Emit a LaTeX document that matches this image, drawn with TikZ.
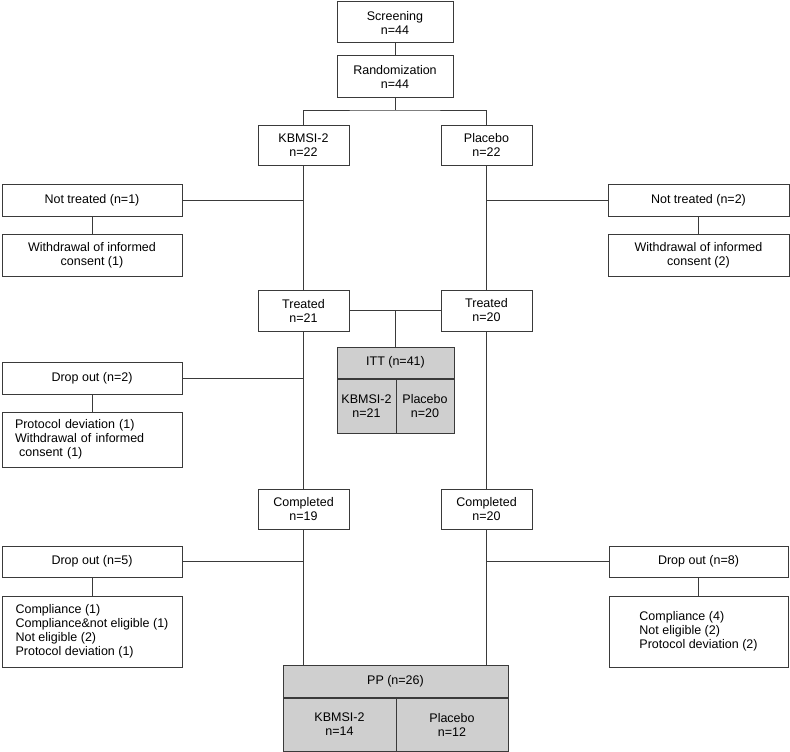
\documentclass[tikz,border=0pt]{standalone}
\usepackage{fontspec}
\setmainfont{Liberation Sans}
\definecolor{lineC}{HTML}{3A3A3A}
\definecolor{fillC}{HTML}{CFCFCF}
\begin{document}
\begin{tikzpicture}[x=1pt,y=-1pt,
  every node/.style={font=\fontsize{12.5}{14}\selectfont},
  box/.style={draw=lineC, line width=1pt, fill=white, inner sep=0pt, align=center},
  gbox/.style={box, fill=fillC},
  conn/.style={draw=lineC, line width=1pt}]
\useasboundingbox (0,0) rectangle (790,752);
% main column
\node[box, minimum width=116, minimum height=41] (scr) at (395,22.5) {Screening\\n=44};
\node[box, minimum width=116, minimum height=41] (rnd) at (395,76.5) {Randomization\\n=44};
\node[box, minimum width=91, minimum height=40] (kb) at (303.5,145) {KBMSI-2\\n=22};
\node[box, minimum width=91, minimum height=40] (pl) at (486.5,145) {Placebo\\n=22};
% not treated
\node[box, minimum width=180, minimum height=32] (nt1) at (92,200) {Not treated (n=1)};
\node[box, minimum width=180, minimum height=42] (wd1) at (92,255) {Withdrawal of informed\\consent (1)};
\node[box, minimum width=181, minimum height=32] (nt2) at (698.5,200) {Not treated (n=2)};
\node[box, minimum width=181, minimum height=42] (wd2) at (698.5,255) {Withdrawal of informed\\consent (2)};
% treated
\node[box, minimum width=91, minimum height=41] (t21) at (303.5,310.5) {Treated\\n=21};
\node[box, minimum width=91, minimum height=41] (t20) at (486.5,310.5) {Treated\\n=20};
% ITT
\node[gbox, minimum width=117, minimum height=31] (itt) at (395.5,362.5) {ITT (n=41)};
\node[gbox, minimum width=59, minimum height=54, anchor=north west] (ittk) at (itt.south west) {KBMSI-2\\n=21};
\node[gbox, minimum width=58, minimum height=54, anchor=north east] (ittp) at (itt.south east) {Placebo\\n=20};
% drop out 2
\node[box, minimum width=180, minimum height=32] (do2) at (92,378) {Drop out (n=2)};
\node[box, minimum width=180, minimum height=55, text width=154, inner xsep=13pt, align=left] (pd) at (92,439.5) {Protocol deviation (1)\\Withdrawal of informed\\\ consent (1)};
% completed
\node[box, minimum width=91, minimum height=40] (c19) at (303.5,509) {Completed\\n=19};
\node[box, minimum width=91, minimum height=40] (c20) at (486.5,509) {Completed\\n=20};
% drop out 5 / 8
\node[box, minimum width=180, minimum height=31] (do5) at (92,561.5) {Drop out (n=5)};
\node[box, minimum width=180, minimum height=71, align=left] (cp5) at (92,631.5) {Compliance (1)\\Compliance\&not eligible (1)\\Not eligible (2)\\Protocol deviation (1)};
\node[box, minimum width=179, minimum height=31] (do8) at (698.5,561.5) {Drop out (n=8)};
\node[box, minimum width=179, minimum height=71, align=left] (cp8) at (698.5,631.5) {Compliance (4)\\Not eligible (2)\\Protocol deviation (2)};
% PP
\node[gbox, minimum width=225, minimum height=32] (pp) at (395.5,681) {PP (n=26)};
\node[gbox, minimum width=113, minimum height=53, anchor=north west] (ppk) at (pp.south west) {KBMSI-2\\n=14};
\node[gbox, minimum width=112, minimum height=53, anchor=north east] (ppp) at (pp.south east) {Placebo\\n=12};
% connectors
\coordinate (split) at (395,110);
\draw[conn] (scr) -- (rnd);
\draw[conn] (rnd) -- (split);
\draw[conn] (kb.north) |- (split) -| (pl.north);
\draw[conn] (kb) -- (t21);
\draw[conn] (pl) -- (t20);
\draw[conn] (t21) -- (c19);
\draw[conn] (t20) -- (c20);
\draw[conn] (c19.south) -- (c19.south |- pp.north);
\draw[conn] (c20.south) -- (c20.south |- pp.north);
\draw[conn] (nt1.east) -- (nt1.east -| kb.south);
\draw[conn] (nt1) -- (wd1);
\draw[conn] (nt2.west) -- (nt2.west -| pl.south);
\draw[conn] (nt2) -- (wd2);
\draw[conn] (t21.east) -- (t20.west);
\draw[conn] (t21.east -| itt.north) -- (itt.north);
\draw[conn] (do2.east) -- (do2.east -| t21.south);
\draw[conn] (do2) -- (pd);
\draw[conn] (do5.east) -- (do5.east -| c19.south);
\draw[conn] (do5) -- (cp5);
\draw[conn] (do8.west) -- (do8.west -| c20.south);
\draw[conn] (do8) -- (cp8);
\end{tikzpicture}
\end{document}
